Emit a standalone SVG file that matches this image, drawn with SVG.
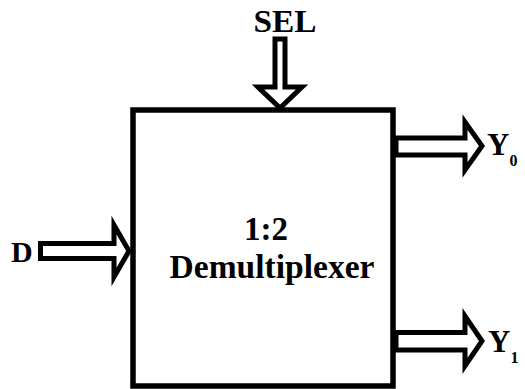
<svg xmlns="http://www.w3.org/2000/svg" width="525" height="389" viewBox="0 0 525 389">
<style>
.arrow{fill:#fff;stroke:#000;stroke-width:5;stroke-linejoin:miter;stroke-miterlimit:10}
.lbl{font-family:"Liberation Serif","Times New Roman",serif;font-weight:bold;fill:#000}
</style>
<rect x="0" y="0" width="525" height="389" fill="#fff"/>
<g id="demux">
<rect x="133" y="110" width="260" height="276" fill="#fff" stroke="#000" stroke-width="5.5"/>
<text class="lbl" x="266" y="240" font-size="33" text-anchor="middle">1:2</text>
<text class="lbl" x="272" y="278" font-size="33" text-anchor="middle" textLength="205" lengthAdjust="spacingAndGlyphs">Demultiplexer</text>
</g>
<g id="connectors">
<polygon id="sel-arrow" class="arrow" points="275,39 285,39 285,87 302,87 280,108 258,87 275,87"/>
<polygon id="d-arrow" class="arrow" points="40.5,243.5 114,243.5 114,225 129,251 114,277 114,258.5 40.5,258.5"/>
<polygon id="y0-arrow" class="arrow" points="396,138 465,138 465,122 482,146 465,170 465,155 396,155"/>
<polygon id="y1-arrow" class="arrow" points="396,332.5 465,332.5 465,316 482,341 465,366 465,350 396,350"/>
</g>
<g id="sel"><text class="lbl" x="285" y="32" font-size="31" text-anchor="middle" textLength="63" lengthAdjust="spacingAndGlyphs">SEL</text></g>
<g id="d"><text class="lbl" x="11" y="262" font-size="30">D</text></g>
<g id="y0"><text class="lbl" x="487" y="155" font-size="31">Y<tspan font-size="16" dy="11">0</tspan></text></g>
<g id="y1"><text class="lbl" x="488" y="352" font-size="31">Y<tspan font-size="16" dy="11">1</tspan></text></g>
</svg>
